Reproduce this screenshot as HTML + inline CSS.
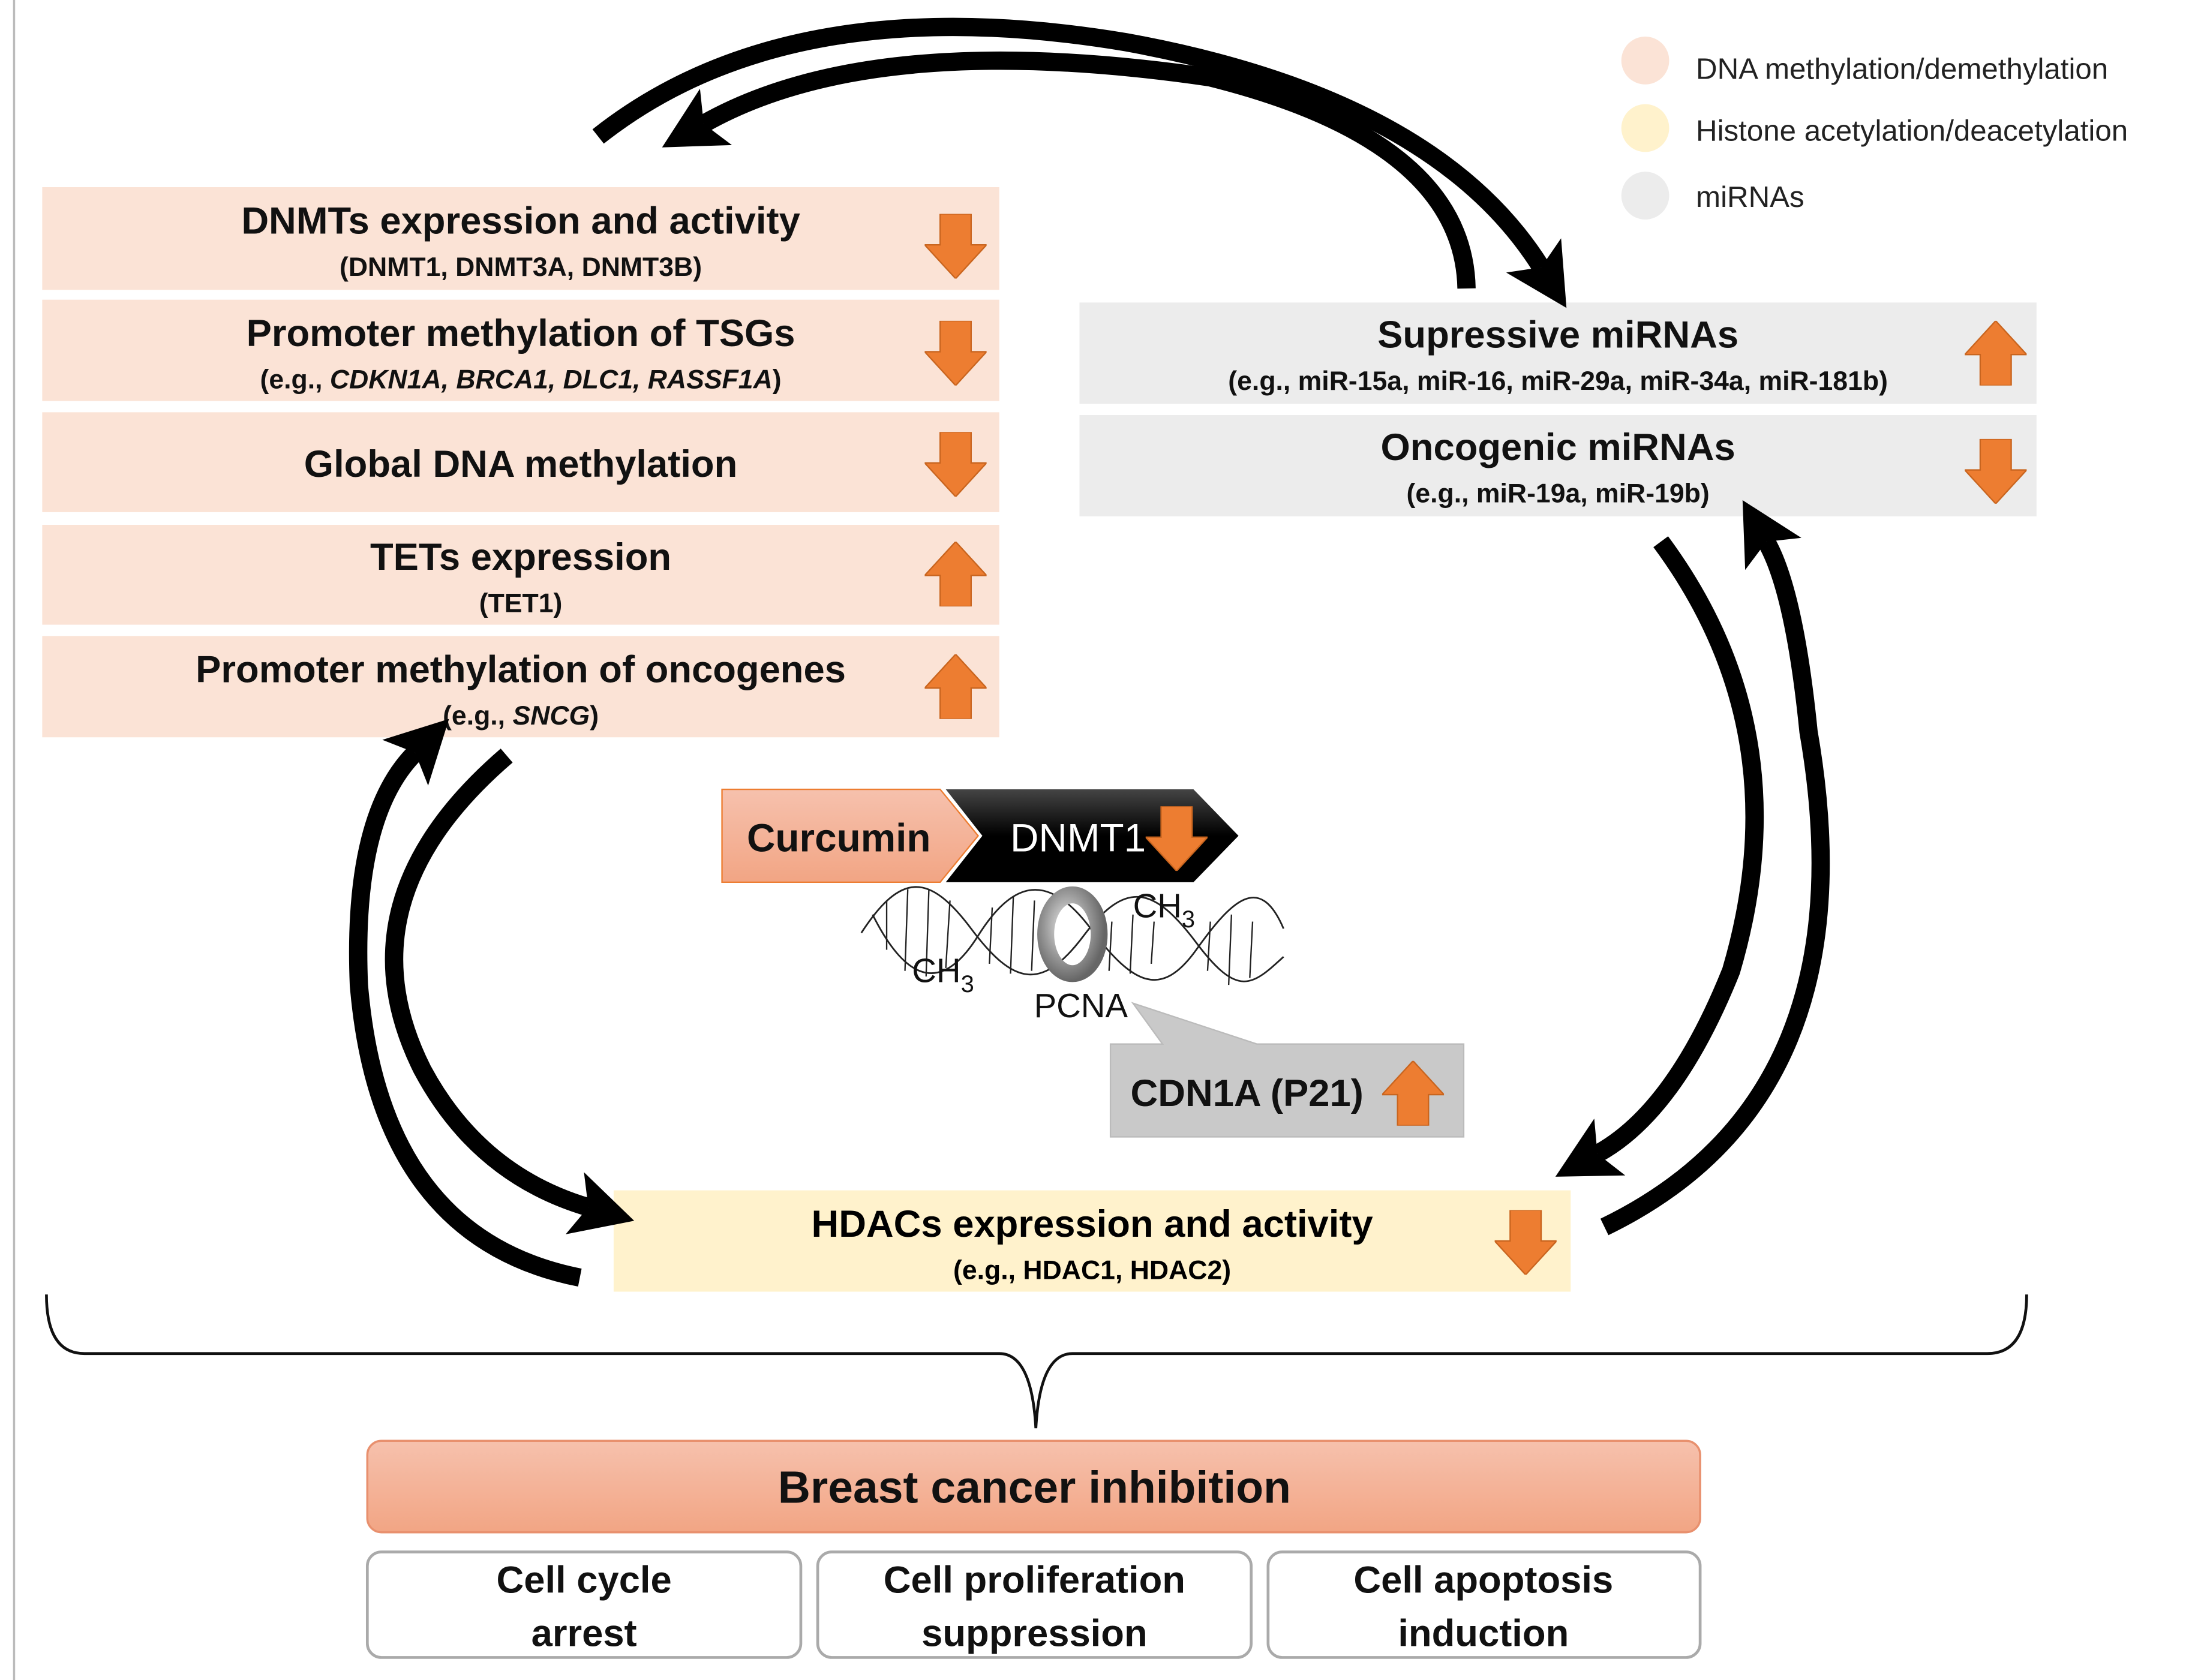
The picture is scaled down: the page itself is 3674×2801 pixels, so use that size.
<!DOCTYPE html>
<html><head><meta charset="utf-8"><style>
html,body{margin:0;padding:0;background:#fff;}
svg{display:block;}
text{font-family:"Liberation Sans",sans-serif;}
.b{font-weight:bold;}
</style></head><body>
<svg width="3674" height="2801" viewBox="0 0 1566 1194" preserveAspectRatio="none" xmlns="http://www.w3.org/2000/svg">
<defs>
<symbol id="dn" viewBox="0 0 44 46"><polygon points="11,0 33,0 33,22 44,22 22,46 0,22 11,22" fill="#ED7D31" stroke="#c9651f" stroke-width="1"/></symbol>
<symbol id="up" viewBox="0 0 44 46"><polygon points="11,46 33,46 33,24 44,24 22,0 0,24 11,24" fill="#ED7D31" stroke="#c9651f" stroke-width="1"/></symbol>
<marker id="ah" markerUnits="userSpaceOnUse" markerWidth="54" markerHeight="54" refX="10" refY="27" orient="auto" viewBox="0 0 54 54"><polygon points="0,4 44,27 0,50 10,27" fill="#000"/></marker>
<linearGradient id="bg" x1="0" y1="0" x2="0" y2="1"><stop offset="0" stop-color="#f6c1ad"/><stop offset="1" stop-color="#f2a584"/></linearGradient>
<linearGradient id="blk" x1="0" y1="0" x2="0" y2="1"><stop offset="0" stop-color="#444"/><stop offset="0.5" stop-color="#000"/></linearGradient>
<radialGradient id="ring" cx="0.4" cy="0.4" r="0.7"><stop offset="0" stop-color="#eee"/><stop offset="0.6" stop-color="#999"/><stop offset="1" stop-color="#666"/></radialGradient>
</defs>
<line x1="10" y1="0" x2="10" y2="1194" stroke="#bbb" stroke-width="1.5"/>

<circle cx="1169" cy="43" r="17" fill="#fbe3d6"/>
<circle cx="1169" cy="91" r="17" fill="#fff2cc"/>
<circle cx="1169" cy="139" r="17" fill="#ececec"/>
<text x="1205" y="56" font-size="21" fill="#222">DNA methylation/demethylation</text>
<text x="1205" y="100" font-size="21" fill="#222">Histone acetylation/deacetylation</text>
<text x="1205" y="147" font-size="21" fill="#222">miRNAs</text>

<g fill="#fbe3d6">
<rect x="30" y="133" width="680" height="73"/>
<rect x="30" y="213" width="680" height="72"/>
<rect x="30" y="293" width="680" height="71"/>
<rect x="30" y="373" width="680" height="71"/>
<rect x="30" y="452" width="680" height="72"/>
</g>
<g text-anchor="middle" fill="#111">
<text x="370" y="166" font-size="27" class="b">DNMTs expression and activity</text>
<text x="370" y="196" font-size="19" class="b">(DNMT1, DNMT3A, DNMT3B)</text>
<text x="370" y="246" font-size="27" class="b">Promoter methylation of TSGs</text>
<text x="370" y="276" font-size="19" class="b">(e.g., <tspan font-style="italic">CDKN1A, BRCA1, DLC1, RASSF1A</tspan>)</text>
<text x="370" y="339" font-size="27" class="b">Global DNA methylation</text>
<text x="370" y="405" font-size="27" class="b">TETs expression</text>
<text x="370" y="435" font-size="19" class="b">(TET1)</text>
<text x="370" y="485" font-size="27" class="b">Promoter methylation of oncogenes</text>
<text x="370" y="515" font-size="19" class="b">(e.g., <tspan font-style="italic">SNCG</tspan>)</text>
</g>
<use href="#dn" x="657" y="152" width="44" height="46"/>
<use href="#dn" x="657" y="228" width="44" height="46"/>
<use href="#dn" x="657" y="307" width="44" height="46"/>
<use href="#up" x="657" y="385" width="44" height="46"/>
<use href="#up" x="657" y="465" width="44" height="46"/>

<rect x="767" y="215" width="680" height="72" fill="#ececec"/>
<rect x="767" y="295" width="680" height="72" fill="#ececec"/>
<g text-anchor="middle" fill="#111">
<text x="1107" y="247" font-size="27" class="b">Supressive miRNAs</text>
<text x="1107" y="277" font-size="19" class="b">(e.g., miR-15a, miR-16, miR-29a, miR-34a, miR-181b)</text>
<text x="1107" y="327" font-size="27" class="b">Oncogenic miRNAs</text>
<text x="1107" y="357" font-size="19" class="b">(e.g., miR-19a, miR-19b)</text>
</g>
<use href="#up" x="1396" y="228" width="44" height="46"/>
<use href="#dn" x="1396" y="312" width="44" height="46"/>

<rect x="436" y="846" width="680" height="72" fill="#fff2cc"/>
<text x="776" y="879" font-size="27" class="b" text-anchor="middle">HDACs expression and activity</text>
<text x="776" y="909" font-size="19" class="b" text-anchor="middle">(e.g., HDAC1, HDAC2)</text>
<use href="#dn" x="1062" y="860" width="44" height="46"/>

<g fill="none" stroke="#000" stroke-width="13" stroke-linecap="butt">
<path d="M425,97 Q560,-10 800,30 Q1020,70 1095,190" marker-end="url(#ah)"/>
<path d="M1042,205 Q1040,100 860,55 Q620,20 500,88" marker-end="url(#ah)"/>
<path d="M1180,385 Q1280,520 1230,690 Q1190,790 1135,820" marker-end="url(#ah)"/>
<path d="M1140,872 Q1330,780 1285,520 Q1275,420 1255,385" marker-end="url(#ah)"/>
<path d="M360,537 Q240,640 300,760 Q340,835 418,858" marker-end="url(#ah)"/>
<path d="M412,908 Q270,880 255,700 Q250,580 295,535" marker-end="url(#ah)"/>
</g>

<polygon points="513,561 668,561 695,594 668,627 513,627" fill="url(#bg)" stroke="#ED7D31" stroke-width="1"/>
<text x="596" y="605" font-size="28" class="b" text-anchor="middle" fill="#111">Curcumin</text>
<polygon points="672,561 848,561 880,594 848,627 672,627 698,594" fill="url(#blk)"/>
<text x="766" y="605" font-size="28" text-anchor="middle" fill="#fff">DNMT1</text>
<use href="#dn" x="814" y="573" width="44" height="46"/>

<g fill="none" stroke="#222" stroke-width="1.2">
<path d="M612,663 C640,620 660,620 690,660 S740,705 770,665 S820,630 850,670 S890,700 912,680"/>
<path d="M620,650 C645,700 670,705 695,665 S745,620 775,660 S825,710 850,675 S895,620 912,660"/>
</g>
<g stroke="#222" stroke-width="1">
<line x1="630" y1="640" x2="630" y2="675"/><line x1="645" y1="632" x2="643" y2="690"/><line x1="660" y1="632" x2="658" y2="694"/><line x1="675" y1="640" x2="672" y2="688"/>
<line x1="705" y1="645" x2="703" y2="685"/><line x1="720" y1="637" x2="718" y2="692"/><line x1="735" y1="640" x2="733" y2="690"/>
<line x1="790" y1="655" x2="788" y2="690"/><line x1="805" y1="650" x2="803" y2="692"/><line x1="820" y1="655" x2="818" y2="685"/>
<line x1="860" y1="655" x2="858" y2="690"/><line x1="875" y1="650" x2="873" y2="700"/><line x1="890" y1="655" x2="888" y2="695"/>
</g>
<ellipse cx="762" cy="664" rx="19" ry="28" fill="none" stroke="url(#ring)" stroke-width="12"/>
<text x="648" y="698" font-size="24" fill="#111">CH<tspan font-size="17" dy="7">3</tspan></text>
<text x="805" y="652" font-size="24" fill="#111">CH<tspan font-size="17" dy="7">3</tspan></text>
<text x="768" y="723" font-size="24" text-anchor="middle" fill="#111">PCNA</text>
<polygon points="789,742 826,742 805,713 893,742 1040,742 1040,808 789,808" fill="#c9c9c9" stroke="#bbb" stroke-width="1"/>
<text x="886" y="786" font-size="27" class="b" text-anchor="middle" fill="#111">CDN1A (P21)</text>
<use href="#up" x="982" y="754" width="44" height="46"/>

<path d="M33,920 Q33,962 60,962 L710,962 Q733,962 736,1015 Q739,962 762,962 L1412,962 Q1440,962 1440,920" fill="none" stroke="#111" stroke-width="2"/>

<rect x="261" y="1024" width="947" height="65" rx="10" fill="url(#bg)" stroke="#e8906e" stroke-width="1.5"/>
<text x="735" y="1068" font-size="32" class="b" text-anchor="middle" fill="#111">Breast cancer inhibition</text>
<g fill="#fff" stroke="#aaa" stroke-width="2">
<rect x="261" y="1103" width="308" height="75" rx="10"/>
<rect x="581" y="1103" width="308" height="75" rx="10"/>
<rect x="901" y="1103" width="307" height="75" rx="10"/>
</g>
<g text-anchor="middle" font-size="27" class="b" fill="#111">
<text x="415" y="1132">Cell cycle</text><text x="415" y="1170">arrest</text>
<text x="735" y="1132">Cell proliferation</text><text x="735" y="1170">suppression</text>
<text x="1054" y="1132">Cell apoptosis</text><text x="1054" y="1170">induction</text>
</g>
</svg>
</body></html>
